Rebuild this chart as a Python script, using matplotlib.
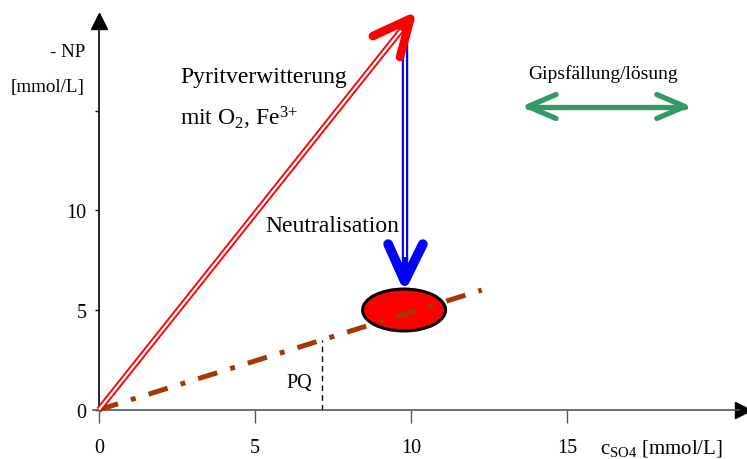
import numpy as np
import matplotlib
matplotlib.use('Agg')
import matplotlib.pyplot as plt
from matplotlib.patches import Ellipse

plt.rcParams['font.family'] = ['Liberation Serif', 'DejaVu Serif']
plt.rcParams['mathtext.fontset'] = 'stix'
plt.rcParams['mathtext.default'] = 'regular'

# axis ticks
xticks = [0, 5, 10, 15]
xticklabels = ['0', '5', '10', '15']
yticks = [0, 5, 10, 15]
yticklabels = ['0', '5', '10', '']

# pyrite weathering arrow (origin -> tip) and its open head
pyrit_x = [0.0, 9.98]
pyrit_y = [0.0, 19.6]
pyrit_head_x = [8.78, 9.98, 9.65]
pyrit_head_y = [18.73, 19.6, 17.68]

# neutralisation arrow (top -> tip)
neutr_x = [9.8, 9.8]
neutr_y = [19.2, 6.45]
neutr_head_x = [9.27, 9.8, 10.38]
neutr_head_y = [8.3, 6.45, 8.3]

# gypsum double arrow
gips_x = [13.75, 18.78]
gips_y = [15.2, 15.2]
gips_head_l_x = [14.65, 13.75, 14.65]
gips_head_r_x = [17.88, 18.78, 17.88]
gips_head_y = [15.8, 15.2, 14.6]

# PQ line
pq_x = [0.0, 12.27]
pq_y = [0.0, 6.0]
pq_mark_x = 7.14
pq_mark_y = 3.5

# end state ellipse
ell_x, ell_y = 9.78, 5.0
ell_w, ell_h = 2.66, 2.1

fig = plt.figure(figsize=(7.47, 4.60), dpi=100)
ax = fig.add_axes([0, 0, 1, 1])
ax.set_xlim(-3.17, 20.77)
ax.set_ylim(-2.47, 20.59)

for s in ['top', 'right']:
    ax.spines[s].set_visible(False)
ax.spines['left'].set_position(('data', 0))
ax.spines['bottom'].set_position(('data', 0))
ax.spines['left'].set_bounds(0, 19.3)
ax.spines['bottom'].set_bounds(-0.2, 20.5)
ax.spines['left'].set_linewidth(1.2)
ax.spines['bottom'].set_linewidth(1.2)
ax.spines['bottom'].set_color('#555555')

ax.set_xticks(xticks)
ax.set_xticklabels(xticklabels, fontsize=14.5)
ax.set_yticks(yticks)
ax.set_yticklabels(yticklabels, fontsize=14.5)
ax.tick_params(axis='x', direction='out', length=9, width=1, color='#555555', pad=11)
ax.tick_params(axis='y', direction='out', length=3, width=1, pad=6)

# axis arrowheads
ax.plot([0], [19.48], marker='^', ms=12, color='k', clip_on=False)
ax.plot([20.65], [0], marker='>', ms=12, color='k', clip_on=False)

# PQ dash-dot line and ellipse
ax.add_patch(Ellipse((ell_x, ell_y), ell_w, ell_h, facecolor='red',
                     edgecolor='black', lw=2.2, zorder=3))
ax.plot(pq_x, pq_y, color='#a33a00', lw=3.6, dashes=(4, 2.7, 1, 2.7), zorder=4)
ax.plot([pq_mark_x, pq_mark_x], [0, pq_mark_y], color='k', lw=1, ls=(0, (4, 3)))
ax.text(6.43, 1.39, 'PQ', fontsize=14.5, ha='center', va='center')

# pyrite weathering arrow (double line)
ax.plot(pyrit_x, pyrit_y, color='red', lw=4.3, solid_capstyle='butt', zorder=5)
ax.plot([0, pyrit_x[1] * 0.97], [0, pyrit_y[1] * 0.97], color='white', lw=1.6,
        solid_capstyle='butt', zorder=5)
ax.plot(pyrit_head_x, pyrit_head_y, color='red', lw=6.2, solid_capstyle='round',
        solid_joinstyle='round', zorder=7)

# neutralisation arrow (double line)
ax.plot(neutr_x, [neutr_y[0], neutr_y[1] + 0.3], color='blue', lw=4.6,
        solid_capstyle='butt', zorder=4)
ax.plot(neutr_x, [neutr_y[0], neutr_y[1] + 1.2], color='white', lw=1.5,
        solid_capstyle='butt', zorder=4)
ax.plot(neutr_head_x, neutr_head_y, color='blue', lw=7, solid_capstyle='round',
        solid_joinstyle='round', zorder=6)

# gypsum arrow
ax.plot(gips_x, gips_y, color='#339966', lw=3.8, solid_capstyle='round')
ax.plot(gips_head_l_x, gips_head_y, color='#339966', lw=3.8,
        solid_capstyle='round', solid_joinstyle='round')
ax.plot(gips_head_r_x, gips_head_y, color='#339966', lw=3.8,
        solid_capstyle='round', solid_joinstyle='round')

# labels
ax.text(2.6, 16.68, 'Pyritverwitterung', fontsize=17, va='center')
ax.text(2.6, 14.67, 'mit O$_2$, Fe$^{3{+}}$', fontsize=17, va='center')
ax.text(5.32, 9.26, 'Neutralisation', fontsize=17, va='center')
ax.text(13.75, 16.88, 'Gipsfällung/lösung', fontsize=14, va='center')
ax.text(-0.45, 17.98, '- NP', fontsize=13.7, ha='right', va='center')
ax.text(-0.45, 16.22, '[mmol/L]', fontsize=13.7, ha='right', va='center')
ax.text(16.05, -1.88, 'c$_{SO4}$ [mmol/L]', fontsize=15, va='center')

fig.savefig('out.png', dpi=100)
